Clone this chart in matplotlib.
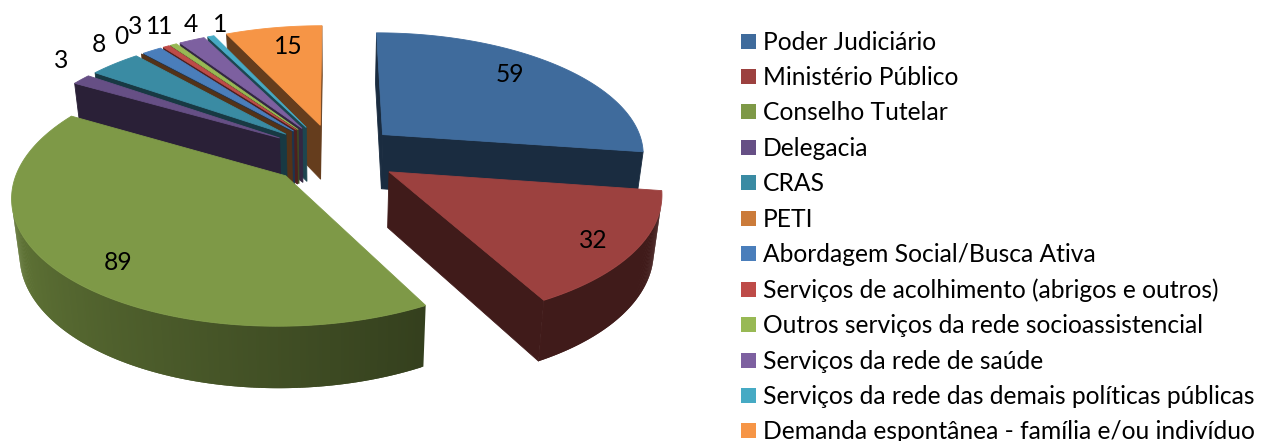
#Exploded 3D pie with the legend on the right. matplotlib has no real 3D pie
#so the slices get projected by hand and drawn back to front.
import matplotlib
matplotlib.use('Agg')
import matplotlib.pyplot as plt
import numpy as np
from matplotlib.colors import to_rgb

categories = ['Poder Judiciário', 'Ministério Público', 'Conselho Tutelar',
              'Delegacia', 'CRAS', 'PETI', 'Abordagem Social/Busca Ativa',
              'Serviços de acolhimento (abrigos e outros)',
              'Outros serviços da rede socioassistencial',
              'Serviços da rede de saúde',
              'Serviços da rede das demais políticas públicas',
              'Demanda espontânea - família e/ou indivíduo']
values = [59, 32, 89, 3, 8, 0, 3, 1, 1, 4, 1, 15]
colors = ['#3F6B9C', '#9C413F', '#7E9947', '#664F85', '#3A8BA3', '#CB7B3A',
          '#4A7EBB', '#BE4B48', '#98B954', '#7D60A0', '#46AAC4', '#F69546']

#where the value labels sit, in pixels
label_xy = [(510, 74), (593, 240), (118, 262), (61, 61), (99, 44), (121, 36),
            (135, 26), (153, 26), (165, 26), (191, 24), (220, 24), (288, 47)]

#camera numbers, fitted by hand on the corners of the slices
CX, CY = 334, 154
A, B = 263, 121.7
PERSP = 0.145
SHRINK = 0.975
H = 55
EXPLODE = 0.25
FONT = 17.7


def project(X, Y, bottom=False):
    s = 1/(1 + PERSP*Y)
    k = SHRINK if bottom else 1
    x = CX + A*X*s*k
    y = CY - B*Y*s*k + (H*s if bottom else 0)
    return x, y


def area(pts):
    x = np.array([p[0] for p in pts])
    y = np.array([p[1] for p in pts])
    return 0.5*np.sum(x*np.roll(y, -1) - np.roll(x, -1)*y)


def shade(rgb, f):
    return tuple(min(1, c*f) for c in rgb)


#the rim gets lighter going round the left side of the pie
def rim_factor(deg):
    return float(np.clip(0.41 + (deg - 150)*0.49/140, 0.41, 0.9))


def quad(ax, pts, col, z, lw=0.6):
    ax.fill([p[0] for p in pts], [p[1] for p in pts], color=col, lw=lw, zorder=z)


def draw_slice(ax, a0, a1, col, z):
    rgb = to_rgb(col)
    mid = np.radians((a0 + a1)/2)
    ox, oy = EXPLODE*np.sin(mid), EXPLODE*np.cos(mid)
    n = max(3, int(a1 - a0)*2)
    t = np.radians(np.linspace(a0, a1, n))
    X = ox + np.sin(t)
    Y = oy + np.cos(t)
    apex_t, apex_b = project(ox, oy), project(ox, oy, True)
    top = [project(px, py) for px, py in zip(X, Y)]
    bot = [project(px, py, True) for px, py in zip(X, Y)]
    #the two flat cut faces
    start = [apex_t, top[0], bot[0], apex_b]
    end = [top[-1], apex_t, apex_b, bot[-1]]
    for face in (start, end):
        if area(face) < 0:
            quad(ax, face, shade(rgb, 0.41), z)
    #outer rim in small overlapping quads, the overlap hides the seams
    deg = np.degrees(t)
    for i in range(n - 1):
        j = min(i + 2, n - 1)
        q = [top[i], top[j], bot[j], bot[i]]
        if area(q) < 0:
            quad(ax, q, shade(rgb, rim_factor(deg[i])), z + 0.1 + i*1e-4, lw=0)
    if a1 > a0:
        quad(ax, [apex_t] + top, col, z + 0.2)


fig = plt.figure(figsize=(12.61, 4.41), dpi=100)
ax = fig.add_axes([0, 0, 1, 1])
ax.set_xlim(0, 1261)
ax.set_ylim(441, 0)
ax.axis('off')
plt.rcParams['font.family'] = ['Lato', 'DejaVu Sans']

edges = np.cumsum([0] + values)*360.0/sum(values)
mids = (edges[:-1] + edges[1:])/2
#back slices first
order = np.argsort(-np.cos(np.radians(mids)))
for z, i in enumerate(order):
    draw_slice(ax, edges[i], edges[i+1], colors[i], 2 + z)

for v, (x, y) in zip(values, label_xy):
    ax.text(x, y, str(v), ha='center', va='center', fontsize=FONT, color='black', zorder=30)

#legend by hand, the rows are evenly spaced
for i, name in enumerate(categories):
    y = 41 + i*35.45
    ax.add_patch(plt.Rectangle((741, y - 7.5), 15, 15, color=colors[i], lw=0))
    ax.text(763, y + 1, name, ha='left', va='center', fontsize=FONT, color='black')

fig.savefig('out.png', dpi=100)
